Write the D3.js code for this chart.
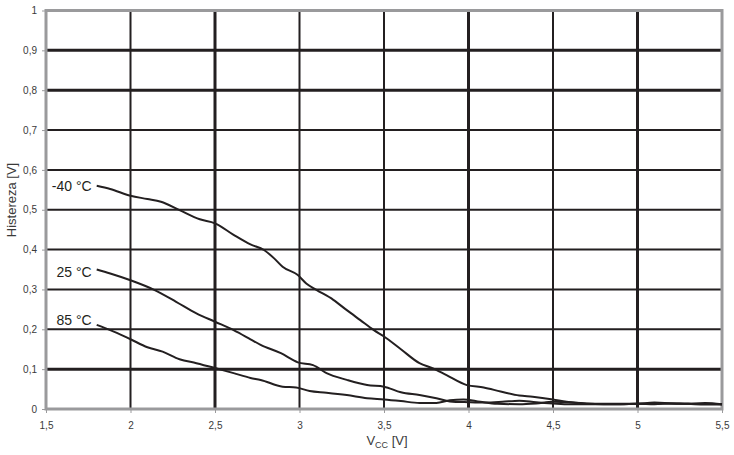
<!DOCTYPE html>
<html>
<head>
<meta charset="utf-8">
<script src="https://cdn.jsdelivr.net/npm/d3@7"></script>
<style>
  html, body { margin: 0; padding: 0; background: #fff; }
  svg { display: block; font-family: "Liberation Sans", Arial, sans-serif; }
</style>
</head>
<body>
<svg id="chart" width="734" height="455"></svg>
<script>
// ---- data ----
const xTicks = [1.5, 2, 2.5, 3, 3.5, 4, 4.5, 5, 5.5];
const yTicks = [0, 0.1, 0.2, 0.3, 0.4, 0.5, 0.6, 0.7, 0.8, 0.9, 1];
const thickX = [2.5, 4, 5];
const thickY = [0.1, 0.8, 0.9];
const seriesNames = ["-40 °C", "25 °C", "85 °C"];

const vccM40 = [1.8, 1.88, 2.0, 2.1, 2.18, 2.29, 2.41, 2.5, 2.61, 2.71, 2.79, 2.85, 2.9, 2.99, 3.04, 3.1, 3.2, 3.28, 3.36, 3.44, 3.5, 3.6, 3.71, 3.79, 3.87, 3.99, 4.09, 4.19, 4.3, 4.38, 4.5, 4.58, 4.7, 4.8, 4.9, 5.0, 5.1, 5.2, 5.3, 5.4, 5.5];
const hystM40 = [0.56, 0.552, 0.535, 0.527, 0.52, 0.499, 0.476, 0.466, 0.437, 0.413, 0.399, 0.378, 0.357, 0.336, 0.315, 0.299, 0.274, 0.248, 0.223, 0.198, 0.182, 0.15, 0.115, 0.102, 0.085, 0.06, 0.054, 0.044, 0.034, 0.031, 0.024, 0.018, 0.014, 0.013, 0.013, 0.013, 0.013, 0.014, 0.013, 0.013, 0.012];

const vcc25 = [1.8, 1.88, 2.0, 2.14, 2.27, 2.39, 2.5, 2.61, 2.71, 2.77, 2.89, 2.99, 3.08, 3.16, 3.28, 3.4, 3.5, 3.6, 3.71, 3.81, 3.89, 4.0, 4.1, 4.2, 4.3, 4.4, 4.5, 4.6, 4.7, 4.8, 4.9, 5.0, 5.1, 5.2, 5.3, 5.4, 5.5];
const hyst25 = [0.35, 0.34, 0.323, 0.299, 0.269, 0.24, 0.219, 0.198, 0.175, 0.161, 0.14, 0.117, 0.11, 0.09, 0.073, 0.06, 0.056, 0.042, 0.035, 0.027, 0.019, 0.017, 0.016, 0.018, 0.021, 0.017, 0.014, 0.012, 0.012, 0.012, 0.012, 0.013, 0.016, 0.014, 0.013, 0.015, 0.012];

const vcc85 = [1.8, 1.88, 2.0, 2.1, 2.19, 2.29, 2.39, 2.49, 2.61, 2.71, 2.77, 2.9, 2.98, 3.06, 3.16, 3.28, 3.4, 3.5, 3.6, 3.71, 3.81, 3.89, 3.97, 4.07, 4.17, 4.3, 4.4, 4.5, 4.6, 4.7, 4.8, 4.9, 5.0, 5.1, 5.2, 5.3, 5.4, 5.5];
const hyst85 = [0.211, 0.198, 0.175, 0.155, 0.144, 0.125, 0.115, 0.104, 0.09, 0.078, 0.073, 0.056, 0.054, 0.045, 0.041, 0.035, 0.027, 0.024, 0.02, 0.015, 0.015, 0.022, 0.024, 0.018, 0.013, 0.012, 0.014, 0.018, 0.017, 0.013, 0.012, 0.012, 0.013, 0.012, 0.014, 0.013, 0.011, 0.011];

const allSeries = [
  { name: seriesNames[0], x: vccM40, y: hystM40, dy: 5 },
  { name: seriesNames[1], x: vcc25, y: hyst25, dy: 7 },
  { name: seriesNames[2], x: vcc85, y: hyst85, dy: 0 }
];

// ---- layout ----
const svg = d3.select("#chart");
const pL = 46, pR = 722, pT = 10.5, pB = 409;
const x = d3.scaleLinear().domain([1.5, 5.5]).range([pL, pR]);
const y = d3.scaleLinear().domain([0, 1]).range([pB, pT]);
const ink = "#231f20";
const gray = "#9a9a9c";
const fmt = d => String(d).replace(".", ",");

// grid
svg.append("g").selectAll("line").data(xTicks.slice(1, -1)).join("line")
  .attr("x1", d => x(d)).attr("x2", d => x(d)).attr("y1", pT).attr("y2", pB)
  .attr("stroke", ink).attr("stroke-width", d => thickX.includes(d) ? 3 : 2);
svg.append("g").selectAll("line").data(yTicks.slice(1, -1)).join("line")
  .attr("y1", d => y(d)).attr("y2", d => y(d)).attr("x1", pL).attr("x2", pR)
  .attr("stroke", ink).attr("stroke-width", d => thickY.includes(d) ? 3 : 2);

// frame
svg.append("rect").attr("x", pL).attr("y", pT).attr("width", pR - pL).attr("height", pB - pT)
  .attr("fill", "none").attr("stroke", gray).attr("stroke-width", 3);

// axes
const xAxis = d3.axisBottom(x).tickValues(xTicks).tickFormat(fmt).tickSize(4).tickPadding(9);
const gx = svg.append("g").attr("transform", `translate(0,${pB})`).call(xAxis);
const yAxis = d3.axisLeft(y).tickValues(yTicks).tickFormat(fmt).tickSize(4).tickPadding(5);
const gy = svg.append("g").attr("transform", `translate(${pL},0)`).call(yAxis);
[gx, gy].forEach(g => {
  g.select(".domain").remove();
  g.selectAll(".tick line").attr("stroke", gray).attr("stroke-width", 1);
  g.selectAll(".tick text").attr("fill", "#3a3a3a").style("font-size", "10px").style("font-family", "Liberation Sans, Arial, sans-serif");
});

// lines
const line = d3.line().x(d => x(d[0])).y(d => y(d[1])).curve(d3.curveMonotoneX);
svg.append("g").selectAll("path").data(allSeries).join("path")
  .attr("d", s => line(s.x.map((v, i) => [v, s.y[i]])))
  .attr("fill", "none").attr("stroke", ink).attr("stroke-width", 2).attr("stroke-linejoin", "round");

// series labels
svg.append("g").selectAll("text").data(allSeries).join("text")
  .attr("x", s => x(s.x[0]) - 5).attr("y", s => y(s.y[0]) + s.dy)
  .attr("text-anchor", "end").attr("fill", ink).style("font-size", "14px")
  .text(s => s.name);

// axis titles
svg.append("text").attr("transform", `translate(16,200) rotate(-90)`)
  .attr("text-anchor", "middle").attr("fill", "#3a3a3a").style("font-size", "13px")
  .text("Histereza [V]");
const xt = svg.append("text").attr("x", 387).attr("y", 445).attr("text-anchor", "middle")
  .attr("fill", "#3a3a3a").style("font-size", "13px");
xt.append("tspan").text("V");
xt.append("tspan").attr("dy", 3).style("font-size", "9px").text("CC");
xt.append("tspan").attr("dy", -3).text(" [V]");
</script>
</body>
</html>
